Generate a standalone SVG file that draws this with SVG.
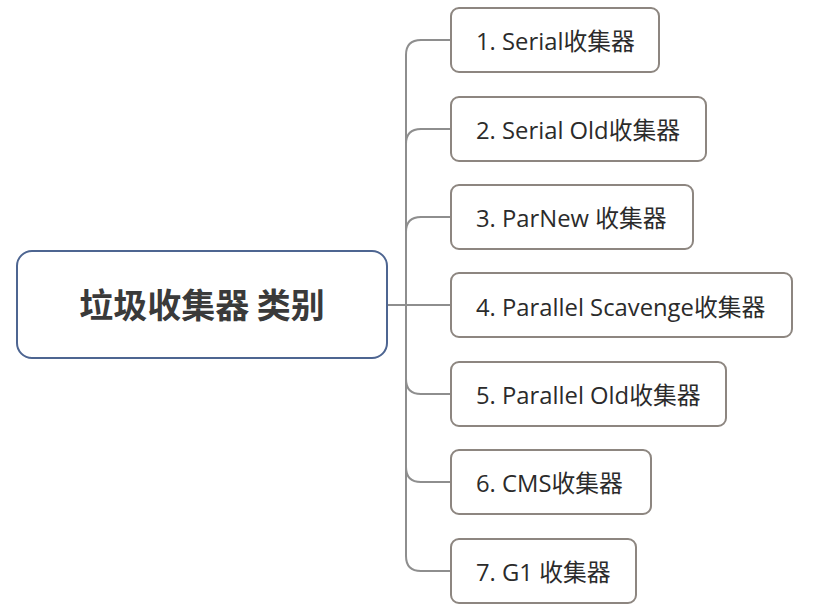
<svg xmlns="http://www.w3.org/2000/svg" width="813" height="616" viewBox="0 0 813 616">
<style>
.bg{fill:#ffffff}
.root{fill:#ffffff;stroke:#4d6591;stroke-width:2}
.child{fill:#ffffff;stroke:#8d8680;stroke-width:2}
.conn{fill:none;stroke:#8e8e8e;stroke-width:2}
.rt{font-family:"Noto Sans CJK SC","Open Sans",sans-serif;font-weight:bold;font-size:34px;fill:#3a3a3a;text-anchor:middle}
.ct{font-family:"Open Sans","Noto Sans CJK SC",sans-serif;font-size:23.8px;fill:#2b2b2b}
</style>
<rect class="bg" x="0" y="0" width="813" height="616"/>
<g id="connectors">
<path class="conn" d="M387,305 H406 V55 Q406,40 421,40 H451"/>
<path class="conn" d="M406,144 Q406,129 421,129 H451"/>
<path class="conn" d="M406,232 Q406,217 421,217 H451"/>
<path class="conn" d="M387,305 H451"/>
<path class="conn" d="M406,379 Q406,394 421,394 H451"/>
<path class="conn" d="M406,467 Q406,482 421,482 H451"/>
<path class="conn" d="M406,305 V556 Q406,571 421,571 H451"/>
</g>
<g id="root">
<rect class="root" x="17" y="251" width="370" height="107" rx="15"/>
<text class="rt" x="202" y="318">垃圾收集器 类别</text>
</g>
<g id="n1">
<rect class="child" x="451" y="8" width="208" height="64" rx="8"/>
<text class="ct" x="476" y="50">1. Serial收集器</text>
</g>
<g id="n2">
<rect class="child" x="451" y="97" width="255" height="64" rx="8"/>
<text class="ct" x="476" y="139">2. Serial Old收集器</text>
</g>
<g id="n3">
<rect class="child" x="451" y="185" width="242" height="64" rx="8"/>
<text class="ct" x="476" y="227">3. ParNew 收集器</text>
</g>
<g id="n4">
<rect class="child" x="451" y="273" width="341" height="64" rx="8"/>
<text class="ct" x="476" y="316">4. Parallel Scavenge收集器</text>
</g>
<g id="n5">
<rect class="child" x="451" y="362" width="275" height="64" rx="8"/>
<text class="ct" x="476" y="404">5. Parallel Old收集器</text>
</g>
<g id="n6">
<rect class="child" x="451" y="450" width="200" height="64" rx="8"/>
<text class="ct" x="476" y="492">6. CMS收集器</text>
</g>
<g id="n7">
<rect class="child" x="451" y="539" width="185" height="64" rx="8"/>
<text class="ct" x="476" y="581">7. G1 收集器</text>
</g>
</svg>
